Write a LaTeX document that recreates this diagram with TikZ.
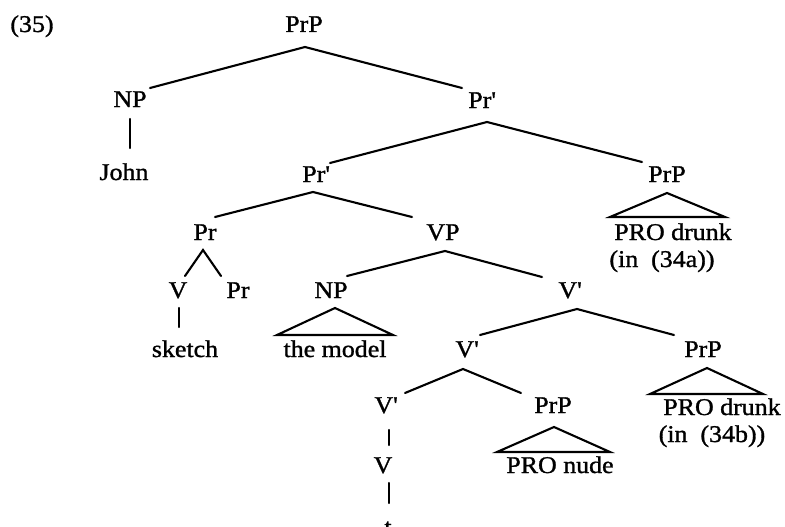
\documentclass[tikz,border=0pt]{standalone}
\usepackage{fontspec}
\setmainfont{Liberation Serif}[FakeStretch=1.08,FakeBold=1.2]
\newcommand{\pr}{\textquotesingle}
\begin{document}
\begin{tikzpicture}[x=1pt,y=-1pt,
  lbl/.style={inner sep=0pt,anchor=base,font=\fontsize{24}{28}\selectfont},
  br/.style={line width=2.1pt,line cap=round}]
\useasboundingbox (0,0) rectangle (785,527);

% example number
\node[lbl] (num) at (32,32) {(35)};

% labels
\node[lbl] (prp)   at (304,32)  {PrP};
\node[lbl] (np1)   at (130,107) {NP};
\node[lbl] (john)  at (124,180) {John};
\node[lbl] (prb1)  at (482,108) {Pr\pr};
\node[lbl] (prb2)  at (316,182) {Pr\pr};
\node[lbl] (prp2)  at (667,182) {PrP};
\node[lbl] (prod1) at (673,240) {PRO drunk};
\node[lbl] (in1)   at (662,267) {(in\ \ (34a))};
\node[lbl] (pr1)   at (205,240) {Pr};
\node[lbl] (vp)    at (443,240) {VP};
\node[lbl] (v1)    at (178,298) {V};
\node[lbl] (pr2)   at (238,298) {Pr};
\node[lbl] (sketch)at (185,357) {sketch};
\node[lbl] (np2)   at (331,298) {NP};
\node[lbl] (model) at (335,357) {the model};
\node[lbl] (vb1)   at (570,298) {V\pr};
\node[lbl] (vb2)   at (467,357) {V\pr};
\node[lbl] (prp3)  at (703,357) {PrP};
\node[lbl] (prod2) at (722,415) {PRO drunk};
\node[lbl] (in2)   at (712,442) {(in\ \ (34b))};
\node[lbl] (vb3)   at (386,413) {V\pr};
\node[lbl] (prp4)  at (553,413) {PrP};
\node[lbl] (pronu) at (560,473) {PRO nude};
\node[lbl] (v2)    at (383,473) {V};
\node[lbl] (t)     at (388,535) {t};

% branch points
\coordinate (prp-a)  at (305,47);
\coordinate (np1-t)  at (150,88);
\coordinate (prb1-t) at (462,88);
\coordinate (np1-b)  at (130,119);
\coordinate (john-t) at (130,148);
\coordinate (prb1-a) at (487,122);
\coordinate (prb2-t) at (330,163);
\coordinate (prp2-t) at (642,162);
\coordinate (prb2-a) at (313,192);
\coordinate (pr1-t)  at (215,217);
\coordinate (vp-t)   at (412,217);
\coordinate (pr1-a)  at (203,250);
\coordinate (v1-t)   at (185,276);
\coordinate (pr2-t)  at (221,276);
\coordinate (v1-b)   at (179,308);
\coordinate (sk-t)   at (179,327);
\coordinate (vp-a)   at (445,251);
\coordinate (np2-t)  at (347,276);
\coordinate (vb1-t)  at (542,277);
\coordinate (vb1-a)  at (577,309);
\coordinate (vb2-t)  at (480,335);
\coordinate (prp3-t) at (674,335);
\coordinate (vb2-a)  at (463,369);
\coordinate (vb3-t)  at (405,393);
\coordinate (prp4-t) at (521,393);
\coordinate (vb3-b)  at (389,430);
\coordinate (v2-t)   at (389,445);
\coordinate (v2-b)   at (389,483);
\coordinate (t-t)    at (389,503);

% triangle corners
\coordinate (tri1-a) at (667,193);
\coordinate (tri1-l) at (610,217);
\coordinate (tri1-r) at (725,217);
\coordinate (tri2-a) at (335,308);
\coordinate (tri2-l) at (277,335);
\coordinate (tri2-r) at (393,335);
\coordinate (tri3-a) at (707,368);
\coordinate (tri3-l) at (650,394);
\coordinate (tri3-r) at (763,394);
\coordinate (tri4-a) at (554,427);
\coordinate (tri4-l) at (497,452);
\coordinate (tri4-r) at (610,452);

% branches
\draw[br] (np1-t) -- (prp-a) -- (prb1-t);
\draw[br] (np1-b) -- (john-t);
\draw[br] (prb2-t) -- (prb1-a) -- (prp2-t);
\draw[br] (pr1-t) -- (prb2-a) -- (vp-t);
\draw[br] (v1-t) -- (pr1-a) -- (pr2-t);
\draw[br] (v1-b) -- (sk-t);
\draw[br] (np2-t) -- (vp-a) -- (vb1-t);
\draw[br] (vb2-t) -- (vb1-a) -- (prp3-t);
\draw[br] (vb3-t) -- (vb2-a) -- (prp4-t);
\draw[br] (vb3-b) -- (v2-t);
\draw[br] (v2-b) -- (t-t);

% triangles
\draw[br,line join=miter] (tri1-l) -- (tri1-a) -- (tri1-r) -- cycle;
\draw[br,line join=miter] (tri2-l) -- (tri2-a) -- (tri2-r) -- cycle;
\draw[br,line join=miter] (tri3-l) -- (tri3-a) -- (tri3-r) -- cycle;
\draw[br,line join=miter] (tri4-l) -- (tri4-a) -- (tri4-r) -- cycle;
\end{tikzpicture}
\end{document}
